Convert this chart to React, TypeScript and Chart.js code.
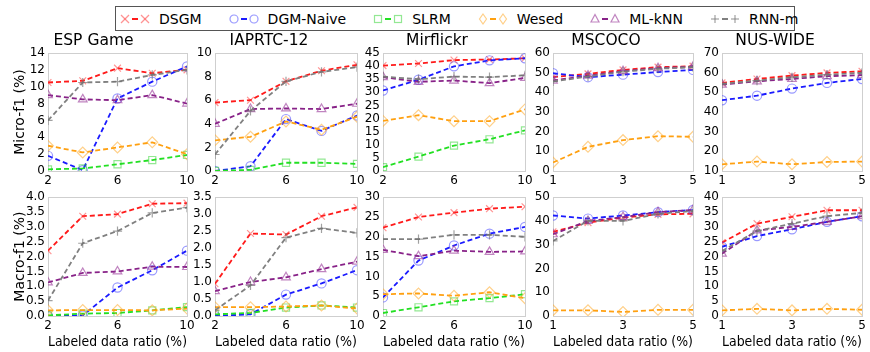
import React, { useEffect, useRef } from 'react';
import { Chart, registerables } from 'chart.js';

Chart.register(...registerables);
Chart.defaults.font.family = "'DejaVu Sans', sans-serif";

// ---------- data ----------
const methods = ['DSGM', 'DGM-Naive', 'SLRM', 'Wesed', 'ML-kNN', 'RNN-m'];
const datasetNames = ['ESP Game', 'IAPRTC-12', 'Mirflickr', 'MSCOCO', 'NUS-WIDE'];
const ratiosA = [2, 4, 6, 8, 10];
const ratiosB = [1, 2, 3, 4, 5];

// rows: DSGM, DGM-Naive, SLRM, Wesed, ML-kNN, RNN-m
const espMicro = [
  [10.5, 10.7, 12.2, 11.6, 12.0],
  [1.8, 0.1, 8.6, 10.6, 12.4],
  [0.2, 0.3, 0.8, 1.3, 1.9],
  [3.0, 2.2, 2.8, 3.4, 2.0],
  [9.0, 8.5, 8.4, 9.0, 8.0],
  [6.0, 10.5, 10.6, 11.4, 12.0],
];
const iaprMicro = [
  [5.8, 6.0, 7.6, 8.5, 9.0],
  [0.0, 0.4, 4.4, 3.4, 4.7],
  [0.0, 0.1, 0.7, 0.7, 0.6],
  [2.6, 2.9, 4.2, 3.5, 4.6],
  [4.0, 5.25, 5.3, 5.25, 5.7],
  [1.4, 5.1, 7.6, 8.4, 8.8],
];
const mirMicro = [
  [40.2, 41.0, 42.3, 42.5, 43.0],
  [30.7, 34.8, 39.9, 42.2, 43.0],
  [1.5, 5.5, 9.7, 12.1, 15.5],
  [19.1, 21.3, 19.0, 19.0, 23.5],
  [35.8, 34.0, 34.5, 33.5, 35.5],
  [36.0, 35.0, 36.0, 35.8, 36.5],
];
const cocoMicro = [
  [47.7, 49.4, 51.4, 52.8, 53.3],
  [49.7, 47.7, 49.0, 50.3, 51.4],
  null,
  [4.3, 12.3, 15.7, 17.7, 17.4],
  [46.0, 48.5, 50.8, 52.3, 53.0],
  [45.5, 48.0, 50.5, 52.0, 52.8],
];
const nusMicro = [
  [54.8, 56.8, 58.5, 59.9, 60.7],
  [46.0, 48.3, 51.9, 54.8, 56.8],
  null,
  [13.4, 14.8, 13.4, 14.6, 14.8],
  [53.9, 55.6, 56.8, 58.2, 58.7],
  [54.3, 56.0, 57.6, 59.0, 59.9],
];
const espMacro = [
  [2.2, 3.36, 3.43, 3.78, 3.8],
  [0.0, 0.02, 0.96, 1.54, 2.2],
  [0.02, 0.08, 0.1, 0.19, 0.3],
  [0.19, 0.2, 0.2, 0.19, 0.25],
  [1.13, 1.45, 1.5, 1.66, 1.65],
  [0.52, 2.45, 2.86, 3.47, 3.65],
];
const iaprMacro = [
  [0.95, 2.43, 2.4, 2.94, 3.2],
  [0.0, 0.05, 0.63, 0.96, 1.35],
  [0.05, 0.09, 0.25, 0.31, 0.25],
  [0.26, 0.26, 0.28, 0.31, 0.22],
  [0.73, 1.0, 1.14, 1.38, 1.6],
  [0.17, 0.9, 2.31, 2.58, 2.45],
];
const mirMacro = [
  [22.3, 25.0, 26.1, 27.1, 27.6],
  [4.7, 14.0, 17.8, 20.8, 22.5],
  [0.75, 2.2, 3.7, 4.5, 5.5],
  [5.5, 5.7, 5.1, 6.0, 4.5],
  [16.7, 15.1, 16.5, 16.2, 16.3],
  [19.4, 19.4, 20.5, 20.5, 20.0],
];
const cocoMacro = [
  [35.4, 39.3, 41.4, 42.8, 43.0],
  [42.3, 41.0, 42.3, 43.7, 44.6],
  null,
  [2.4, 2.4, 1.7, 2.6, 2.6],
  [34.4, 40.0, 41.6, 43.7, 44.6],
  [31.6, 40.0, 40.0, 43.0, 44.2],
];
const nusMacro = [
  [24.7, 31.1, 33.4, 35.6, 35.6],
  [23.3, 26.9, 29.2, 31.7, 33.6],
  null,
  [1.9, 2.4, 1.9, 2.4, 2.1],
  [21.0, 28.8, 30.0, 31.7, 33.6],
  [21.9, 28.6, 31.1, 33.6, 34.7],
];

const microPanels = [espMicro, iaprMicro, mirMicro, cocoMicro, nusMicro];
const macroPanels = [espMacro, iaprMacro, mirMacro, cocoMacro, nusMacro];
const panelRatios = [ratiosA, ratiosA, ratiosA, ratiosB, ratiosB];
const xStep = [4, 4, 4, 2, 2];

const microYMin = [0, 0, 0, 0, 10];
const microYMax = [14, 10, 45, 60, 70];
const microYStep = [2, 2, 5, 10, 10];
const macroYMin = [0, 0, 0, 0, 0];
const macroYMax = [4, 3.5, 30, 50, 40];
const macroYStep = [0.5, 0.5, 5, 10, 5];

const rowYLabels = ['Micro-f1 (%)', 'Macro-f1 (%)'];
const xLabel = 'Labeled data ratio (%)';

// ---------- styles ----------
const LINE_COLORS = ['#ff1a1a', '#1a1aff', '#22e022', '#ffa010', '#882288', '#808080'];
const MARKER_COLORS = [
  'rgba(255,60,60,0.55)',
  'rgba(70,70,255,0.55)',
  'rgba(40,210,40,0.5)',
  'rgba(255,170,40,0.55)',
  'rgba(150,50,150,0.6)',
  'rgba(110,110,110,0.65)',
];
const POINT_STYLES = ['crossRot', 'circle', 'rect', 'rectRot', 'triangle', 'cross'];
const POINT_RADII = [4.8, 4.6, 5, 5.4, 5, 4.6];

const FONT = "'DejaVu Sans', sans-serif";
const colLeft = [48, 215, 383, 553, 722];
const colRight = [187, 357, 525, 693, 862];
const rowTop = [53, 195];
const rowBottom = [171, 316];

const framePlugin = {
  id: 'frame',
  beforeDatasetsDraw(chart: any) {
    const { ctx, chartArea } = chart;
    ctx.save();
    ctx.strokeStyle = '#cfcfcf';
    ctx.lineWidth = 1;
    ctx.strokeRect(
      Math.round(chartArea.left) + 0.5,
      Math.round(chartArea.top) + 0.5,
      Math.round(chartArea.right - chartArea.left),
      Math.round(chartArea.bottom - chartArea.top)
    );
    ctx.restore();
  },
};

function Panel({ row, col }: { row: number; col: number }) {
  const ref = useRef<HTMLCanvasElement>(null);
  const L = colLeft[col];
  const R = colRight[col];
  const T = rowTop[row];
  const B = rowBottom[row];
  const axisW = col === 0 ? 48 : 34;
  const padR = 12;
  const topH = row === 0 ? 21 : 8;
  const xAxisH = row === 0 ? 22 : 36;
  const left = L - axisW;
  const top = T - topH;
  const width = axisW + (R - L) + padR;
  const height = topH + (B - T) + xAxisH;

  useEffect(() => {
    const values = row === 0 ? microPanels[col] : macroPanels[col];
    const xs = panelRatios[col];
    const yMin = row === 0 ? microYMin[col] : macroYMin[col];
    const yMax = row === 0 ? microYMax[col] : macroYMax[col];
    const yStep = row === 0 ? microYStep[col] : macroYStep[col];
    const datasets: any[] = [];
    values.forEach((series, i) => {
      if (!series) return;
      datasets.push({
        label: methods[i],
        data: xs.map((x, j) => ({ x, y: series[j] })),
        borderColor: LINE_COLORS[i],
        borderWidth: 1.8,
        borderDash: [5, 3],
        pointStyle: POINT_STYLES[i],
        pointRadius: POINT_RADII[i],
        pointBorderColor: MARKER_COLORS[i],
        pointBackgroundColor: 'rgba(0,0,0,0)',
        pointBorderWidth: 1.2,
        fill: false,
        tension: 0,
        order: methods.length - i,
      });
    });
    const chart = new Chart(ref.current as HTMLCanvasElement, {
      type: 'line',
      data: { datasets },
      options: {
        responsive: false,
        animation: false,
        events: [],
        layout: { padding: { top: row === 0 ? 0 : topH, right: padR, left: 0, bottom: 0 } },
        plugins: {
          legend: { display: false },
          tooltip: { enabled: false },
          title: {
            display: row === 0,
            text: datasetNames[col],
            color: '#000',
            font: { size: 15.5, family: FONT, weight: 'normal', lineHeight: 1.2 },
            padding: { top: 0, bottom: 2.4 },
          },
        },
        scales: {
          x: {
            type: 'linear',
            min: xs[0],
            max: xs[xs.length - 1],
            ticks: {
              stepSize: xStep[col],
              color: '#000',
              font: { size: 12, family: FONT },
              padding: 3,
              maxRotation: 0,
              autoSkip: false,
            },
            grid: { display: false, drawTicks: false },
            border: { display: false },
            title: {
              display: row === 1,
              text: xLabel,
              color: '#000',
              font: { size: 14, family: FONT },
              padding: { top: 0, bottom: 1 },
            },
            afterFit: (s: any) => {
              s.height = xAxisH;
            },
          },
          y: {
            type: 'linear',
            min: yMin,
            max: yMax,
            ticks: {
              stepSize: yStep,
              color: '#000',
              font: { size: 12, family: FONT },
              padding: 3,
              autoSkip: false,
              callback: (v: any) => (yStep < 1 ? Number(v).toFixed(1) : String(v)),
            },
            grid: { display: false, drawTicks: false },
            border: { display: false },
            title: {
              display: col === 0,
              text: rowYLabels[row],
              color: '#000',
              font: { size: 14, family: FONT },
              padding: { top: 12, bottom: 0 },
            },
            afterFit: (s: any) => {
              s.width = axisW;
            },
          },
        },
      } as any,
      plugins: [framePlugin],
    });
    return () => chart.destroy();
  }, []);

  return (
    <canvas
      ref={ref}
      width={width}
      height={height}
      style={{ position: 'absolute', left, top, width, height }}
    />
  );
}

function Marker({ i, cx, cy }: { i: number; cx: number; cy: number }) {
  const c = MARKER_COLORS[i];
  const r = 4;
  const sw = 1.2;
  switch (POINT_STYLES[i]) {
    case 'crossRot':
      return (
        <g stroke={c} strokeWidth={sw}>
          <line x1={cx - r} y1={cy - r} x2={cx + r} y2={cy + r} />
          <line x1={cx - r} y1={cy + r} x2={cx + r} y2={cy - r} />
        </g>
      );
    case 'circle':
      return <circle cx={cx} cy={cy} r={r} fill="none" stroke={c} strokeWidth={sw} />;
    case 'rect':
      return <rect x={cx - 3.5} y={cy - 3.5} width={7} height={7} fill="none" stroke={c} strokeWidth={sw} />;
    case 'rectRot':
      return (
        <polygon
          points={`${cx},${cy - 5} ${cx + 3.5},${cy} ${cx},${cy + 5} ${cx - 3.5},${cy}`}
          fill="none"
          stroke={c}
          strokeWidth={sw}
        />
      );
    case 'triangle':
      return (
        <polygon
          points={`${cx},${cy - 4.5} ${cx + 4},${cy + 3} ${cx - 4},${cy + 3}`}
          fill="none"
          stroke={c}
          strokeWidth={sw}
        />
      );
    default:
      return (
        <g stroke={c} strokeWidth={sw}>
          <line x1={cx - r} y1={cy} x2={cx + r} y2={cy} />
          <line x1={cx} y1={cy - r} x2={cx} y2={cy + r} />
        </g>
      );
  }
}

function Legend() {
  return (
    <div
      style={{
        position: 'absolute',
        left: 115,
        top: 6,
        width: 680,
        height: 25,
        boxSizing: 'border-box',
        border: '1px solid #555',
        display: 'flex',
        alignItems: 'center',
        paddingLeft: 4,
        gap: 27,
        fontFamily: FONT,
        fontSize: 14,
        color: '#000',
        whiteSpace: 'nowrap',
      }}
    >
      {methods.map((m, i) => (
        <div key={m} style={{ display: 'flex', alignItems: 'center' }}>
          <svg width={30} height={14} style={{ marginRight: 9 }}>
            <line x1={12} y1={7} x2={18} y2={7} stroke={LINE_COLORS[i]} strokeWidth={2} />
            <Marker i={i} cx={5} cy={7} />
            <Marker i={i} cx={25} cy={7} />
          </svg>
          <span>{m}</span>
        </div>
      ))}
    </div>
  );
}

export default function App() {
  const cells: { row: number; col: number }[] = [];
  for (let r = 0; r < 2; r++) for (let c = 0; c < 5; c++) cells.push({ row: r, col: c });
  return (
    <div
      style={{
        position: 'fixed',
        left: 0,
        top: 0,
        width: 870,
        height: 352,
        background: '#fff',
        overflow: 'hidden',
      }}
    >
      <Legend />
      {cells.map((c) => (
        <Panel key={`${c.row}-${c.col}`} row={c.row} col={c.col} />
      ))}
    </div>
  );
}
